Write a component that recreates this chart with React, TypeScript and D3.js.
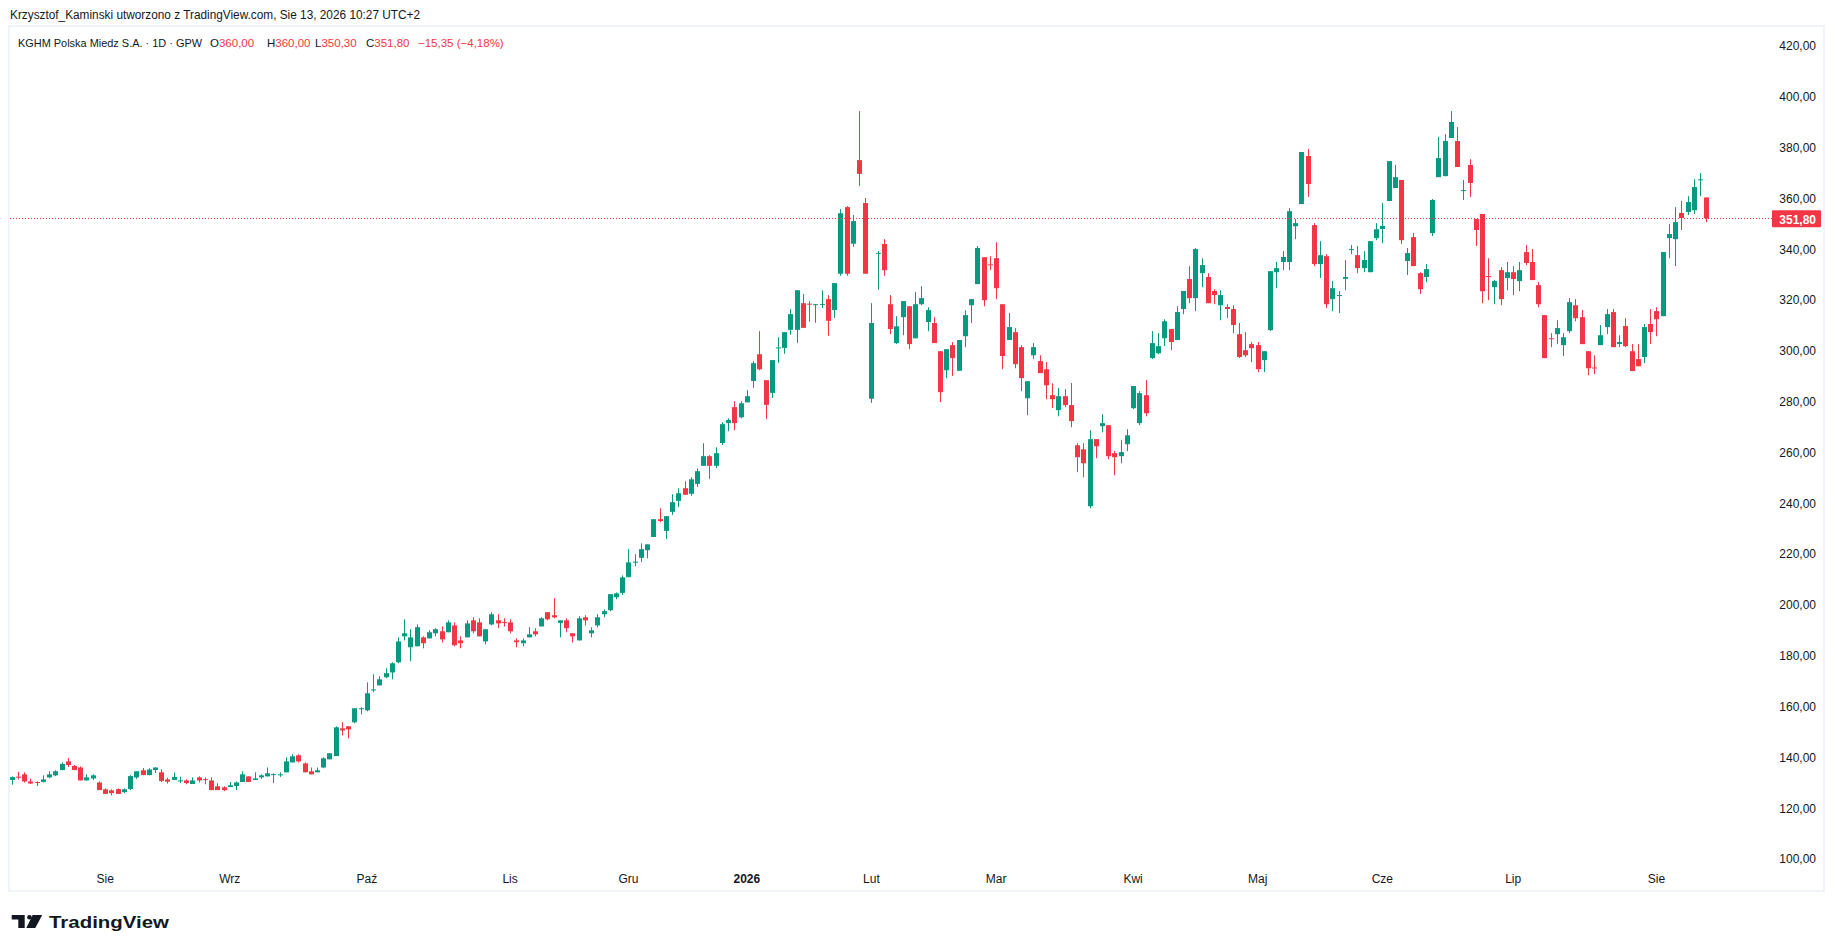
import React from 'react';
import * as d3 from 'd3';

// ---------- data ----------
const opens = [
  130.8,132.1,133.0,130.2,130.0,130.0,131.8,132.6,134.7,138.1,136.3,135.7,130.6,131.4,129.8,127.1,126.7,127.2,126.0,127.2,
  131.8,134.6,132.7,134.7,133.8,131.0,130.8,130.2,130.6,129.2,131.8,131.1,130.6,128.3,127.9,128.0,128.4,130.0,132.2,130.8,
  131.8,132.2,133.0,132.9,133.8,137.7,140.5,137.3,134.2,133.8,135.7,138.9,140.2,151.1,151.9,153.5,158.9,158.2,166.2,168.0,
  171.2,173.1,177.1,187.3,183.0,183.4,186.9,186.5,188.5,189.3,188.9,191.6,185.7,186.9,193.6,192.8,185.3,192.0,193.6,192.9,
  192.8,185.7,184.6,186.9,189.3,191.2,196.8,195.6,192.6,193.6,188.5,185.7,194.8,188.5,191.6,196.0,197.6,202.7,204.4,210.6,
  216.5,218.2,221.2,226.4,233.4,228.8,236.3,240.6,245.6,243.4,247.3,254.4,258.2,254.4,263.4,271.2,277.5,273.5,279.4,287.8,
  298.3,288.1,283.1,300.9,300.8,307.9,307.9,318.4,318.2,317.9,317.9,320.0,315.7,330.0,356.2,341.8,374.7,357.8,280.8,338.0,
  341.7,318.0,302.7,312.9,317.2,304.6,318.0,311.0,310.6,299.5,292.0,301.9,291.8,305.4,317.6,325.9,336.5,333.7,336.1,318.0,
  303.9,307.0,301.1,281.0,297.9,295.6,292.4,282.2,276.3,281.8,278.3,262.5,260.9,238.5,264.9,270.0,270.4,259.4,258.2,262.9,
  277.1,271.2,282.2,296.8,298.7,304.6,308.2,303.9,316.1,327.9,320.4,330.2,328.7,323.2,317.6,316.9,316.1,306.2,299.9,302.3,
  301.9,296.0,307.8,330.6,334.6,334.6,348.7,357.4,376.3,349.1,333.8,336.9,320.0,321.5,328.0,339.6,337.3,332.2,330.6,344.0,
  347.6,358.6,363.7,366.9,335.0,344.4,330.2,328.7,346.0,368.0,368.4,383.4,382.2,362.8,372.8,351.5,353.5,329.1,324.7,331.4,
  328.3,330.6,327.1,338.5,334.6,325.5,313.7,304.6,306.2,301.9,307.4,317.6,312.9,299.5,293.1,301.9,309.0,314.9,302.3,309.4,
  299.5,296.4,297.2,310.2,315.3,313.3,344.0,343.6,353.9,354.3,355.0,367.0,360.0
];
const highs = [
  132.2,134.0,133.8,131.3,130.2,132.6,134.2,134.6,137.7,139.4,136.7,136.1,133.0,133.0,130.2,127.5,127.1,127.5,127.5,132.7,
  134.2,135.5,135.4,135.7,135.0,131.7,133.7,132.1,131.0,131.8,132.2,131.8,131.8,129.5,128.3,130.0,130.2,134.2,132.2,133.8,
  133.0,135.7,133.4,133.8,139.7,140.9,140.9,137.7,135.7,135.7,139.7,141.3,151.9,153.5,151.9,159.0,159.4,169.2,172.4,171.6,
  174.7,177.1,186.9,194.0,190.1,192.0,187.3,189.7,190.5,191.2,193.6,192.8,187.3,193.6,194.8,194.4,190.1,196.8,196.0,194.4,
  194.0,186.5,186.5,190.9,190.5,194.8,196.8,202.3,193.6,194.4,188.5,195.2,195.6,190.9,196.0,197.9,203.9,204.6,211.3,221.6,
  219.6,223.9,223.5,233.4,237.7,234.6,243.2,245.6,248.3,249.9,253.4,263.3,258.6,261.7,271.6,273.1,279.8,279.8,284.2,295.6,
  307.4,288.1,296.0,305.0,307.0,316.1,323.5,322.0,319.2,318.0,323.5,321.6,326.3,355.4,356.6,353.1,394.0,359.8,318.4,338.9,
  343.6,321.6,313.3,319.2,317.2,322.8,325.1,316.8,312.9,299.5,300.3,303.1,303.9,315.6,320.0,340.9,336.5,336.9,342.4,318.0,
  314.5,308.6,301.9,287.7,302.7,297.9,295.2,286.9,285.0,284.6,287.0,263.3,263.3,268.4,264.9,274.7,270.4,260.2,264.5,268.8,
  285.8,283.8,288.1,307.4,306.6,312.1,308.2,317.2,323.2,333.0,340.1,336.1,330.2,323.9,323.5,318.0,317.6,310.6,307.0,303.1,
  303.1,299.5,331.0,334.6,338.9,355.8,351.5,377.9,379.1,349.9,342.8,337.7,327.1,323.2,335.4,341.3,340.9,338.9,342.8,349.9,
  357.8,374.3,372.8,366.9,340.1,346.0,330.6,333.8,359.4,383.8,384.9,394.0,387.7,366.9,375.1,351.5,353.5,336.1,327.5,332.6,
  334.6,333.0,334.6,341.3,339.7,326.7,313.7,306.6,311.7,306.6,320.4,320.0,315.7,299.5,297.9,309.8,316.1,316.1,305.8,312.5,
  302.3,302.3,310.2,316.1,316.8,338.5,349.5,356.2,358.6,360.5,367.2,369.6,360.0
];
const lows = [
  128.9,131.0,129.8,129.2,128.4,129.8,131.5,132.3,134.6,135.9,134.6,130.6,130.6,130.8,126.8,125.3,124.7,125.3,125.6,126.8,
  131.2,132.7,132.6,133.5,130.0,129.4,130.8,129.6,129.1,129.2,129.8,129.1,126.8,126.8,126.4,128.0,126.8,130.0,130.0,130.8,
  131.2,132.2,129.6,132.0,133.8,137.7,137.7,133.8,133.0,133.8,135.4,138.9,140.2,148.3,147.2,153.1,156.6,157.8,165.3,168.0,
  170.8,170.4,176.7,185.7,177.5,183.4,182.6,186.5,187.3,184.9,188.9,183.4,182.6,186.9,188.5,187.3,184.2,191.6,190.5,191.2,
  188.5,183.0,183.4,186.9,187.3,191.2,193.6,194.4,186.9,188.9,184.9,185.7,191.6,186.9,190.9,194.8,197.2,201.9,203.6,210.6,
  214.9,216.5,218.0,226.4,232.2,225.6,235.1,238.2,243.0,242.6,246.1,254.4,249.3,253.6,262.6,268.0,268.4,273.1,279.4,285.1,
  292.0,272.8,281.1,295.0,298.5,306.0,302.8,308.7,311.1,310.7,316.5,305.6,312.6,329.2,329.2,340.6,364.6,330.0,279.2,323.7,
  329.2,306.2,302.3,305.8,300.3,304.6,317.6,307.4,302.7,279.5,288.9,289.7,291.8,301.1,310.6,325.9,317.2,331.4,320.0,292.4,
  303.9,292.8,283.8,274.3,296.4,290.9,280.6,277.1,273.9,277.5,269.6,251.9,249.9,237.7,257.4,267.6,257.0,250.7,255.4,260.2,
  276.7,270.4,273.9,296.4,298.3,301.5,299.9,303.9,314.1,318.4,315.3,324.7,318.4,318.0,311.7,312.5,306.6,296.8,297.2,295.2,
  291.3,291.3,307.4,324.3,331.4,331.4,343.6,357.4,360.2,333.0,328.3,316.5,315.3,314.5,323.5,337.7,330.2,330.6,330.6,343.2,
  342.0,358.6,363.7,341.7,329.5,333.0,322.0,326.7,344.8,368.0,368.4,383.4,372.0,359.0,360.2,340.9,318.4,319.6,318.0,317.6,
  323.5,321.6,323.1,333.4,327.5,316.8,296.8,301.1,302.3,297.6,306.6,311.3,302.3,290.1,290.5,301.9,306.2,301.1,301.1,301.1,
  291.7,293.6,294.8,302.3,305.4,313.3,336.1,333.0,347.2,353.1,353.5,360.5,350.3
];
const closes = [
  131.9,131.9,130.2,129.4,129.7,131.0,133.0,134.2,137.1,136.7,134.7,130.6,131.8,132.6,126.8,125.3,125.6,125.3,127.1,132.3,
  134.2,132.7,134.9,135.7,130.4,130.1,132.0,130.6,129.6,130.6,130.6,131.0,126.8,126.8,126.8,128.7,129.8,133.0,130.0,131.4,
  132.6,133.4,133.1,133.0,138.1,140.1,138.1,133.8,133.0,134.6,139.3,141.3,151.5,150.3,150.7,159.0,159.0,164.9,166.4,170.4,
  172.8,176.7,185.3,188.5,186.9,190.9,184.6,188.9,190.1,186.1,192.8,183.8,184.6,192.4,189.3,187.3,190.1,196.0,192.4,192.8,
  189.3,185.0,185.7,188.1,188.1,194.4,194.0,194.8,193.6,190.5,187.3,194.4,193.6,189.7,194.8,197.2,203.9,204.2,210.5,216.4,
  216.7,221.6,223.5,233.4,232.7,234.6,240.1,243.6,243.0,249.1,252.3,258.2,254.4,259.4,270.8,272.4,271.2,279.0,281.8,294.8,
  292.4,278.4,296.0,301.0,307.0,314.1,323.5,308.7,318.0,318.0,318.1,311.5,326.3,353.8,330.0,350.7,369.3,330.0,310.6,338.2,
  331.4,308.2,309.3,319.2,302.3,318.0,320.4,315.7,302.7,283.4,300.3,296.8,303.9,313.7,320.0,340.1,319.6,333.6,324.3,297.6,
  309.0,294.4,288.9,287.7,301.1,290.9,286.1,280.6,281.8,278.3,272.0,257.8,255.4,264.9,262.1,271.2,258.2,257.8,259.8,266.4,
  285.8,283.0,275.1,302.7,301.5,311.3,303.1,314.9,323.2,320.4,339.7,333.4,318.4,321.6,321.6,316.1,309.8,297.2,297.9,300.7,
  292.4,299.5,331.0,332.2,336.6,354.6,349.9,377.9,365.3,333.8,337.3,318.0,324.3,321.6,328.7,339.7,332.2,335.4,342.8,347.5,
  348.8,374.3,368.0,343.2,338.1,333.0,323.9,331.8,359.0,375.5,382.2,389.7,372.0,362.9,365.7,347.2,323.1,329.0,327.1,320.0,
  330.6,327.9,331.4,334.2,327.5,318.0,296.8,304.5,308.6,305.0,318.8,312.5,302.3,292.8,293.0,305.8,314.1,301.1,303.1,301.5,
  291.7,293.6,309.0,307.0,312.1,338.5,345.6,350.3,351.9,358.2,364.1,367.15,351.8
];

// trading calendar (GPW)
const firstSession = '2025-07-11';
const sessionHolidays = [
  '2025-08-15','2025-11-11','2025-12-24','2025-12-25','2025-12-26','2025-12-31',
  '2026-01-01','2026-01-06','2026-04-03','2026-04-06','2026-05-01','2026-06-04'
];
const monthNames = ['Sty','Lut','Mar','Kwi','Maj','Cze','Lip','Sie','Wrz','Paź','Lis','Gru'];
const priceTicks = [100,120,140,160,180,200,220,240,260,280,300,320,340,360,380,400,420];

const creditLine = 'Krzysztof_Kaminski utworzono z TradingView.com, Sie 13, 2026 10:27 UTC+2';
const symbolTitle = 'KGHM Polska Miedz S.A. · 1D · GPW';
const previousClose = 367.15;

// ---------- helpers ----------
const GREEN = '#089981';
const RED = '#f23645';
const TEXT = '#131722';
const FONT = '"Liberation Sans", Arial, sans-serif';

function buildSessions(start: string, count: number, holidays: string[]): Date[] {
  const fmt = d3.utcFormat('%Y-%m-%d');
  const out: Date[] = [];
  let d = new Date(start + 'T00:00:00Z');
  while (out.length < count) {
    const wd = d.getUTCDay();
    if (wd !== 0 && wd !== 6 && !holidays.includes(fmt(d))) out.push(d);
    d = d3.utcDay.offset(d, 1);
  }
  return out;
}

const fmtPrice = (v: number) => v.toFixed(2).replace('.', ',');
const fmtSigned = (v: number) => (v < 0 ? '\u2212' : '+') + Math.abs(v).toFixed(2).replace('.', ',');

export default function App() {
  const W = 1835, H = 951;
  const n = closes.length;
  const sessions = buildSessions(firstSession, n, sessionHolidays);

  const x = d3.scaleLinear().domain([0, n - 1]).range([11.7, 1706.3]);
  const y = d3.scaleLinear().domain([100, 420]).range([858.2, 45]);

  const plot = { left: 10, top: 27, right: 1772, bottom: 890 };

  // month ticks: first session of each month
  const monthTicks: { i: number; label: string; bold: boolean }[] = [];
  sessions.forEach((d, i) => {
    if (i === 0) return;
    if (d.getUTCMonth() !== sessions[i - 1].getUTCMonth()) {
      const m = d.getUTCMonth();
      monthTicks.push({ i, label: m === 0 ? String(d.getUTCFullYear()) : monthNames[m], bold: m === 0 });
    }
  });

  const last = n - 1;
  const lastClose = closes[last];
  const change = lastClose - previousClose;
  const pct = (change / previousClose) * 100;
  const lastY = y(lastClose);

  return (
    <div>
      <style>{`body{margin:0;background:#fff}`}</style>
      <svg width={W} height={H} style={{ display: 'block', fontFamily: FONT }}>
        <rect x={0} y={0} width={W} height={H} fill="#ffffff" />
        {/* credit line */}
        <text x={10} y={19} fontSize={12} fill={TEXT} textLength={410} lengthAdjust="spacingAndGlyphs">{creditLine}</text>

        {/* panel frame */}
        <rect x={9} y={26} width={1815} height={865} fill="#ffffff" stroke="#f0f3fa" strokeWidth={2} />

        {/* legend line */}
        <text y={47} fontSize={11.5} fill={TEXT}>
          <tspan x={18} textLength={184} lengthAdjust="spacingAndGlyphs">{symbolTitle}</tspan>
          <tspan x={210}>O</tspan><tspan fill={RED}>{fmtPrice(opens[last])}</tspan>
          <tspan x={267}>H</tspan><tspan fill={RED}>{fmtPrice(highs[last])}</tspan>
          <tspan x={315}>L</tspan><tspan fill={RED}>{fmtPrice(lows[last])}</tspan>
          <tspan x={366}>C</tspan><tspan fill={RED}>{fmtPrice(lastClose)}</tspan>
          <tspan x={418} fill={RED}>{fmtSigned(change)} ({fmtSigned(pct)}%)</tspan>
        </text>

        <defs>
          <clipPath id="plotClip">
            <rect x={plot.left} y={plot.top} width={plot.right - plot.left} height={plot.bottom - plot.top} />
          </clipPath>
        </defs>

        {/* candles */}
        <g clipPath="url(#plotClip)">
          {closes.map((c, i) => {
            const o = opens[i], h = highs[i], l = lows[i];
            const up = c >= o;
            const col = up ? GREEN : RED;
            const cx = Math.round(x(i));
            const yTop = y(Math.max(o, c));
            const yBot = y(Math.min(o, c));
            const bh = Math.max(1, yBot - yTop);
            return (
              <g key={i}>
                <rect x={cx} y={y(h)} width={1} height={Math.max(1, y(l) - y(h))} fill={col} />
                <rect x={cx - 2} y={yTop} width={5} height={bh} fill={col} />
              </g>
            );
          })}
          {/* last price dotted line */}
          <line x1={plot.left} x2={plot.right} y1={Math.round(lastY) + 0.5} y2={Math.round(lastY) + 0.5}
            stroke={RED} strokeWidth={1} strokeDasharray="1 2" />
        </g>

        {/* price axis labels */}
        {priceTicks.map((t) => (
          <text key={t} x={1816} y={y(t) + 1} dy="0.35em" textAnchor="end" fontSize={12} fill={TEXT}>
            {fmtPrice(t)}
          </text>
        ))}

        {/* last price label */}
        <rect x={1772} y={lastY - 8} width={49} height={17} fill={RED} rx={1} />
        <text x={1816} y={lastY + 1} dy="0.35em" textAnchor="end" fontSize={12} fill="#ffffff" fontWeight={600}>
          {fmtPrice(lastClose)}
        </text>

        {/* time axis labels */}
        {monthTicks.map((t) => (
          <text key={t.i} x={x(t.i)} y={879} dy="0.35em" textAnchor="middle" fontSize={12}
            fill={TEXT} fontWeight={t.bold ? 700 : 400}>
            {t.label}
          </text>
        ))}

        {/* TradingView logo */}
        <g transform="translate(11.7,915)" fill="#131722">
          <path d="M0 0 H13 V13 H6.6 V4.5 H0 Z" />
          <circle cx={17.8} cy={2.25} r={2.3} />
          <path d="M21 0 H30.5 L23.6 13 H14.6 Z" />
        </g>
        <text x={49} y={928} fontSize={16.5} fontWeight={700} fill="#131722" textLength={120}
          lengthAdjust="spacingAndGlyphs">TradingView</text>
      </svg>
    </div>
  );
}
